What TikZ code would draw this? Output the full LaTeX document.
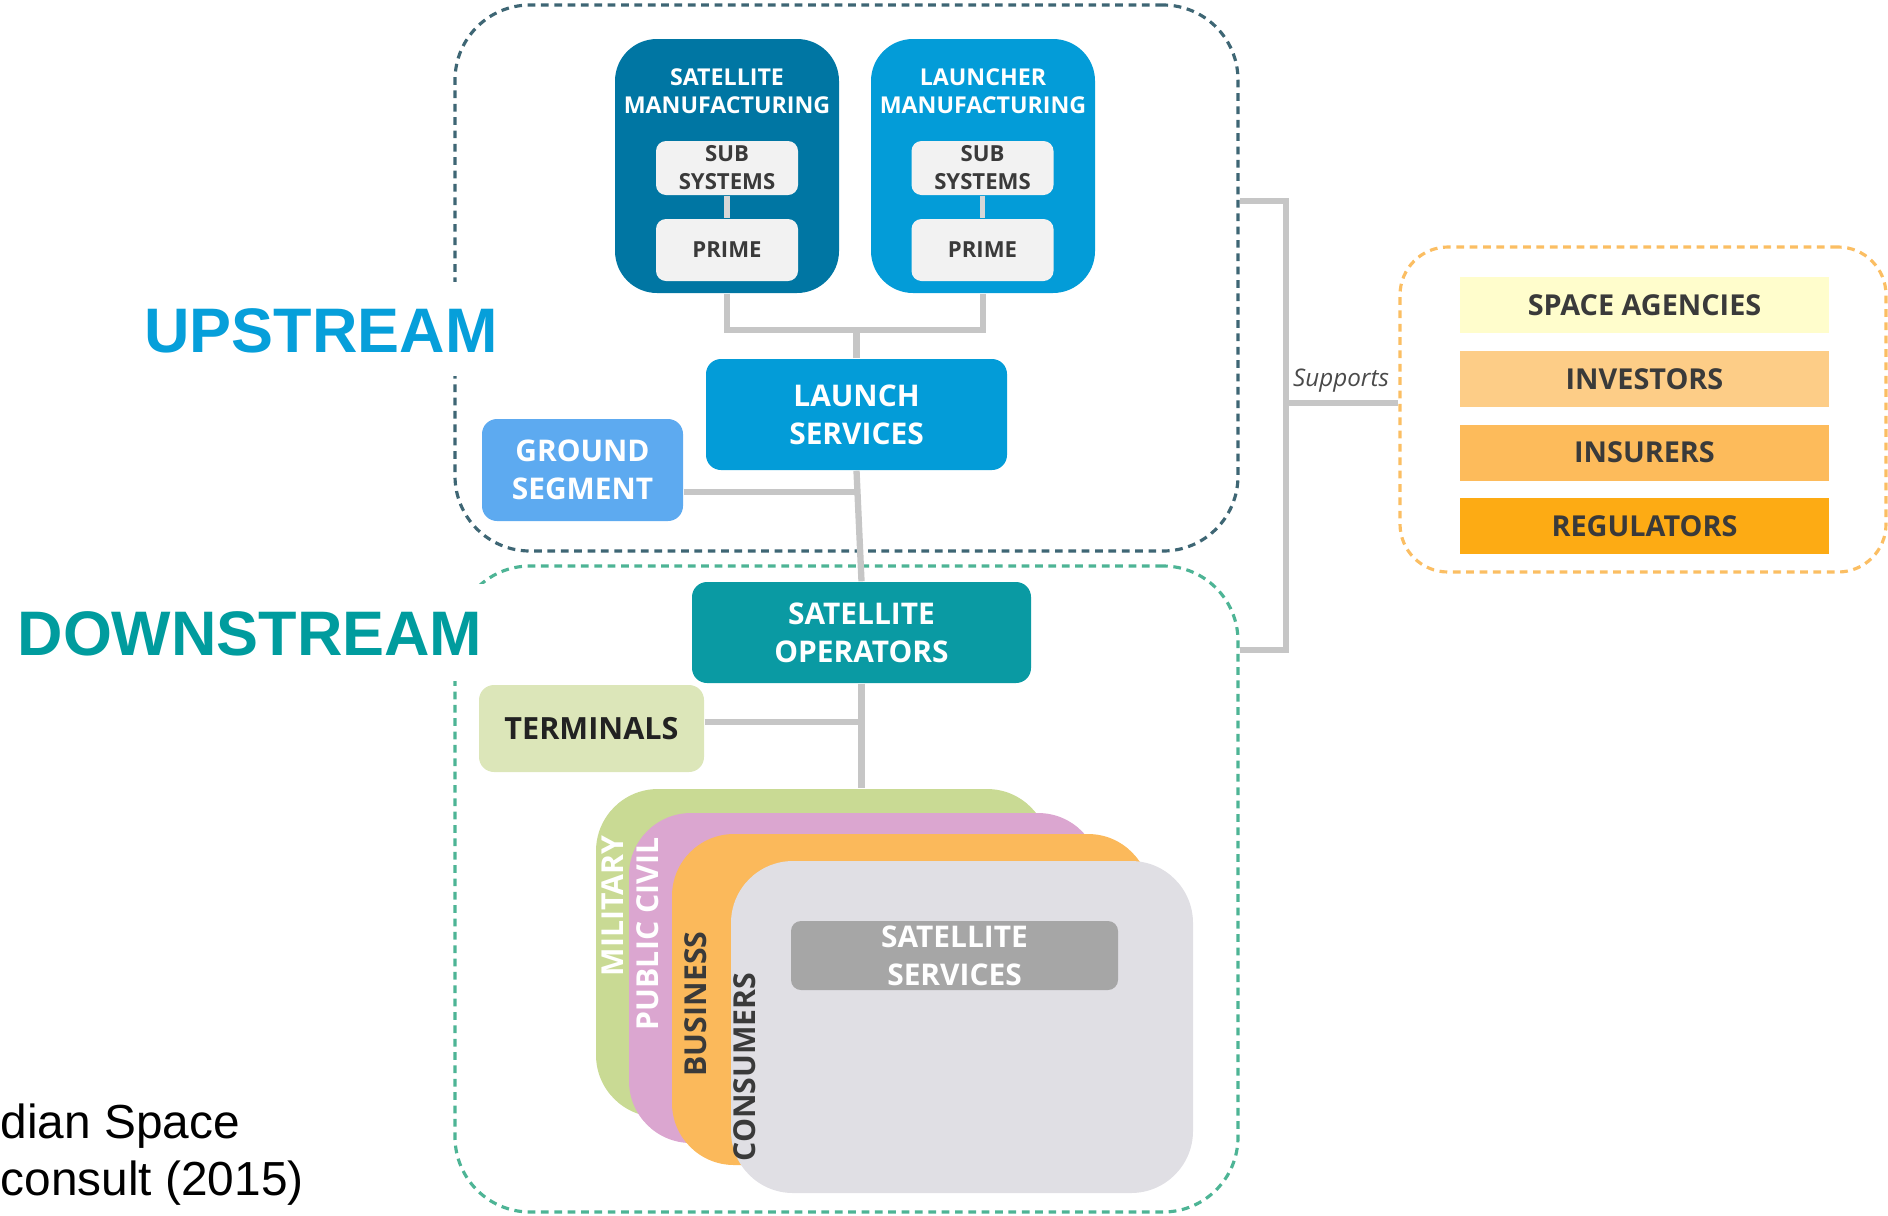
\documentclass[tikz,border=0pt]{standalone}
\usepackage{fontspec}
\setmainfont{Open Sans}
\newfontfamily\arialfont{Liberation Sans}
\definecolor{satmanblue}{HTML}{0076A3}
\definecolor{launchblue}{HTML}{039CD8}
\definecolor{groundblue}{HTML}{5DAAF0}
\definecolor{opsteal}{HTML}{0A9AA3}
\definecolor{termgreen}{HTML}{DCE6B9}
\definecolor{milgreen}{HTML}{C9DA94}
\definecolor{civpink}{HTML}{DBA6D0}
\definecolor{busorange}{HTML}{FBB95B}
\definecolor{congray}{HTML}{E0DFE4}
\definecolor{servgray}{HTML}{A6A6A6}
\definecolor{inboxgray}{HTML}{F2F2F2}
\definecolor{linkgray}{HTML}{C6C6C6}
\definecolor{upline}{HTML}{3E6674}
\definecolor{downline}{HTML}{4DB495}
\definecolor{supline}{HTML}{FBBE63}
\definecolor{agencyyellow}{HTML}{FFFDCC}
\definecolor{investorsorange}{HTML}{FDCD87}
\definecolor{insurersorange}{HTML}{FDBB5B}
\definecolor{regorange}{HTML}{FDAB14}
\definecolor{darktext}{HTML}{3A3A3A}
\definecolor{termtext}{HTML}{222222}
\definecolor{suptext}{HTML}{4A4A4A}
\definecolor{upcolor}{HTML}{069FDA}
\definecolor{downcolor}{HTML}{009C9E}
\begin{document}
\begin{tikzpicture}[
  zonebox/.style={dash pattern=on 2.2pt off 1.6pt, line width=0.9pt, rounded corners=7.5mm, inner sep=0pt},
  mfgbox/.style={rounded corners=4.2mm, minimum width=2.24cm, minimum height=2.54cm, inner sep=0pt},
  mfgtitle/.style={align=center, text=white, inner sep=0pt, font=\bfseries\fontsize{6.6}{8}\selectfont},
  innerbox/.style={fill=inboxgray, rounded corners=1mm, minimum width=1.42cm, inner sep=0pt, align=center, text=darktext, font=\bfseries\fontsize{6.3}{8}\selectfont},
  blockbox/.style={rounded corners=1.5mm, inner sep=0pt, align=center, text=white, font=\bfseries\fontsize{8.5}{10.8}\selectfont},
  cardbox/.style={rounded corners=6.2mm, inner sep=0pt},
  cardtext/.style={rotate=90, inner sep=0pt, font=\bfseries\fontsize{8.6}{10}\selectfont},
  barbox/.style={minimum width=3.69cm, minimum height=0.56cm, inner sep=0pt, text=darktext, font=\bfseries\fontsize{8.2}{10}\selectfont},
  linkline/.style={draw=linkgray, line width=1.8pt},
  innerlink/.style={draw=linkgray!70!white, line width=1.6pt},
  streamlbl/.style={fill=white, inner ysep=2.4mm, inner xsep=1.5mm, text height=4.6mm, text depth=0pt, font=\arialfont\bfseries\fontsize{17.9}{20}\selectfont},
]
  \useasboundingbox (0,0) rectangle (18.88,-12.15);
  \node[zonebox, draw=upline, minimum width=7.83cm, minimum height=5.46cm] (up) at (8.465,-2.78) {};
  \node[zonebox, draw=downline, minimum width=7.83cm, minimum height=6.46cm] (down) at (8.465,-8.89) {};
  \node[zonebox, draw=supline, rounded corners=4.8mm, minimum width=4.86cm, minimum height=3.25cm] (support) at (16.43,-4.095) {};
  \node[streamlbl, text=upcolor] (uplbl) at (3.21,-3.29) {UPSTREAM};
  \node[streamlbl, text=downcolor, inner xsep=2mm, inner ysep=2.6mm, text height=4.5mm] (downlbl) at (2.50,-6.325) {DOWNSTREAM};

  \node[mfgbox, fill=satmanblue] (satman) at (7.27,-1.66) {};
  \node[mfgbox, fill=launchblue] (launman) at (9.83,-1.66) {};
  \node[mfgtitle] (satmantitle) at (7.27,-0.91) {SATELLITE\\MANUFACTURING};
  \node[mfgtitle] (launmantitle) at (9.83,-0.91) {LAUNCHER\\MANUFACTURING};
  \node[innerbox, minimum height=0.54cm] (satsub) at (7.27,-1.68) {SUB\\SYSTEMS};
  \node[innerbox, minimum height=0.62cm] (satprime) at (7.27,-2.50) {PRIME};
  \node[innerbox, minimum height=0.54cm] (launsub) at (9.825,-1.68) {SUB\\SYSTEMS};
  \node[innerbox, minimum height=0.62cm] (launprime) at (9.825,-2.50) {PRIME};
  \draw[innerlink] (satsub) -- (satprime);
  \draw[innerlink] (launsub) -- (launprime);

  \node[blockbox, fill=launchblue, minimum width=3.01cm, minimum height=1.11cm] (launch) at (8.565,-4.145) {LAUNCH\\SERVICES};
  \node[blockbox, fill=groundblue, minimum width=2.01cm, minimum height=1.02cm] (ground) at (5.825,-4.70) {GROUND\\SEGMENT};
  \node[blockbox, fill=opsteal, minimum width=3.39cm, minimum height=1.01cm] (satops) at (8.615,-6.325) {SATELLITE\\OPERATORS};
  \node[blockbox, fill=termgreen, text=termtext, minimum width=2.25cm, minimum height=0.87cm, font=\bfseries\fontsize{8.7}{10.8}\selectfont] (terminals) at (5.915,-7.285) {TERMINALS};

  \draw[linkline] (satman.south) -- (7.27,-3.30) -| (launman.south);
  \draw[linkline] (launch.north) -- (launch.north |- 0,-3.30);
  \draw[linkline] (launch.south) -- (satops.north);
  \draw[linkline] (ground.east |- 0,-4.92) -- (launch.south |- 0,-4.92);
  \draw[linkline] (terminals.east |- 0,-7.22) -- (satops.south |- 0,-7.22);

  \node[cardbox, fill=milgreen, minimum width=4.53cm, minimum height=3.28cm] (military) at (8.225,-9.53) {};
  \draw[linkline] (satops.south) -- (satops.south |- military.north);
  \node[cardbox, fill=civpink, minimum width=4.71cm, minimum height=3.30cm] (civil) at (8.645,-9.78) {};
  \node[cardbox, fill=busorange, minimum width=4.78cm, minimum height=3.31cm] (business) at (9.11,-9.995) {};
  \node[cardbox, fill=congray, minimum width=4.62cm, minimum height=3.32cm] (consumers) at (9.62,-10.27) {};
  \node[blockbox, fill=servgray, rounded corners=1mm, minimum width=3.27cm, minimum height=0.69cm] (satserv) at (9.545,-9.555) {SATELLITE\\SERVICES};
  \node[cardtext, text=white] (militarylbl) at (6.13,-9.06) {MILITARY};
  \node[cardtext, text=white] (civillbl) at (6.48,-9.34) {PUBLIC CIVIL};
  \node[cardtext, text=darktext] (businesslbl) at (6.96,-10.04) {BUSINESS};
  \node[cardtext, text=darktext] (consumerslbl) at (7.45,-10.67) {CONSUMERS};

  \coordinate (supjoin) at (12.86,-4.03);
  \draw[linkline] (up.east |- 0,-2.01) -| (supjoin) |- (down.east |- 0,-6.50);
  \draw[linkline] (supjoin) -- (support.west |- supjoin);
  \node[font=\itshape\fontsize{6.9}{8}\selectfont, text=suptext] (suplbl) at (13.41,-3.81) {Supports};

  \node[barbox, fill=agencyyellow] (agencies) at (16.445,-3.05) {SPACE AGENCIES};
  \node[barbox, fill=investorsorange] (investors) at (16.445,-3.79) {INVESTORS};
  \node[barbox, fill=insurersorange] (insurers) at (16.445,-4.525) {INSURERS};
  \node[barbox, fill=regorange] (regulators) at (16.445,-5.26) {REGULATORS};

  \node[anchor=base west, inner sep=0pt, font=\arialfont\fontsize{13.6}{16}\selectfont] (source1) at (0.0,-11.38) {dian Space};
  \node[anchor=base west, inner sep=0pt, font=\arialfont\fontsize{13.6}{16}\selectfont] (source2) at (0.0,-11.95) {consult (2015)};
\end{tikzpicture}
\end{document}
